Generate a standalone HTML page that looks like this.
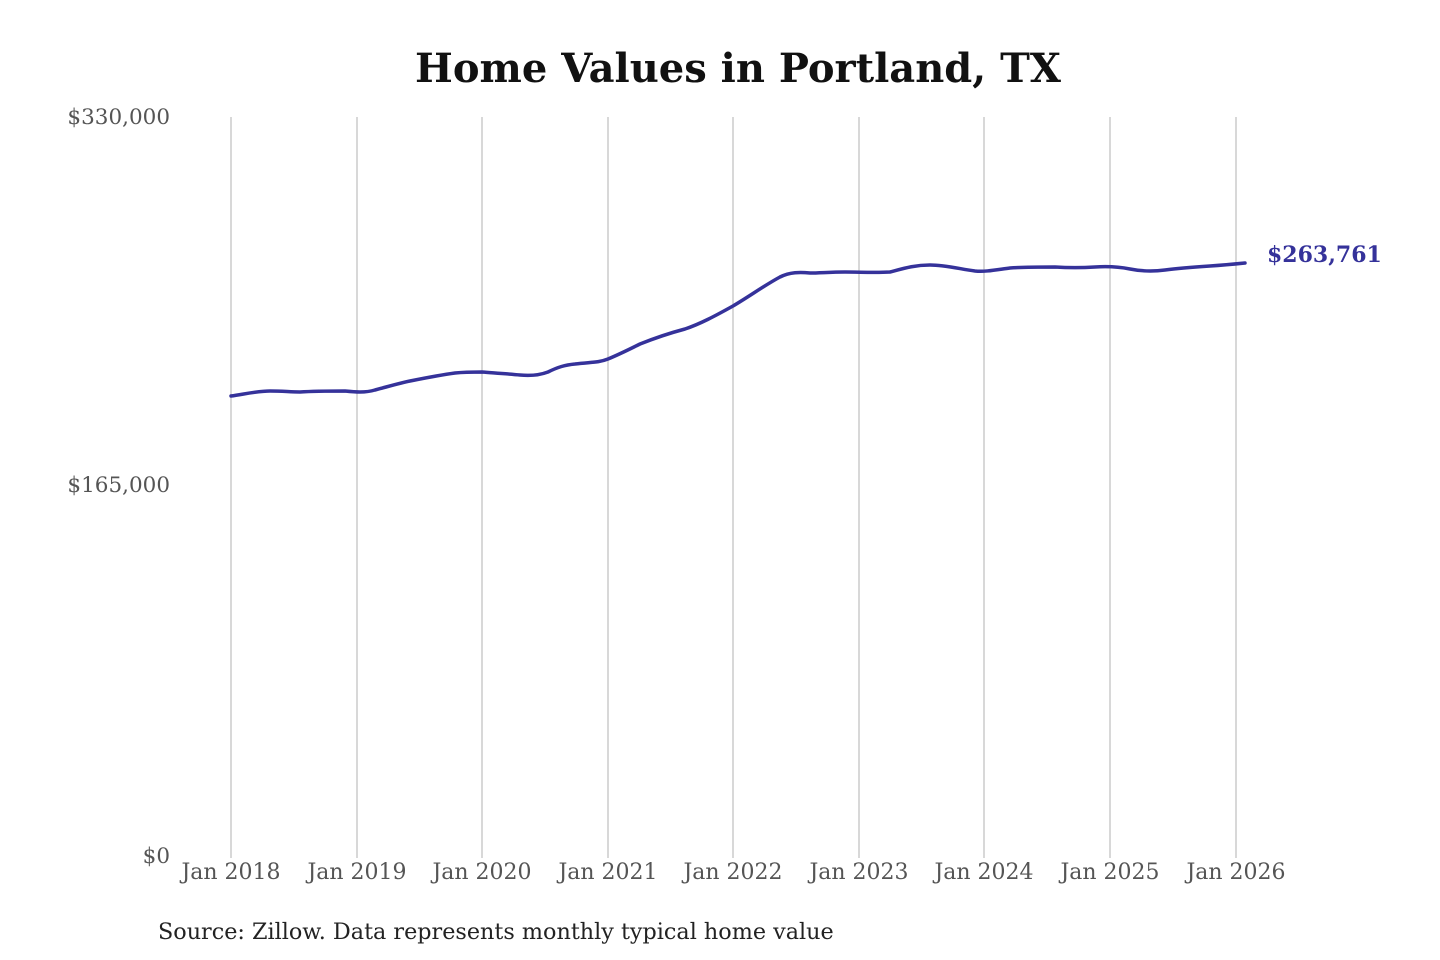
<!DOCTYPE html>
<html><head><meta charset="utf-8"><style>
html,body{margin:0;padding:0;background:#fff;width:1440px;height:960px;overflow:hidden}
svg text{font-family:"DejaVu Serif","Liberation Serif",serif}
</style></head><body>
<svg width="1440" height="960" viewBox="0 0 1440 960" xmlns="http://www.w3.org/2000/svg">
<text x="738" y="82" text-anchor="middle" font-size="40" font-weight="bold" fill="#111">Home Values in Portland, TX</text>
<g stroke="#c4c4c4" stroke-width="1.3">
<line x1="231" y1="117" x2="231" y2="858"/><line x1="357" y1="117" x2="357" y2="858"/>
<line x1="482" y1="117" x2="482" y2="858"/><line x1="608" y1="117" x2="608" y2="858"/>
<line x1="733" y1="117" x2="733" y2="858"/><line x1="859" y1="117" x2="859" y2="858"/>
<line x1="984" y1="117" x2="984" y2="858"/><line x1="1110" y1="117" x2="1110" y2="858"/>
<line x1="1236" y1="117" x2="1236" y2="858"/>
</g>
<g font-size="21.5" fill="#555" text-anchor="end">
<text x="170" y="124">$330,000</text>
<text x="170" y="492">$165,000</text>
<text x="170" y="863">$0</text>
</g>
<g font-size="22" fill="#555" text-anchor="middle">
<text x="231" y="879">Jan 2018</text><text x="357" y="879">Jan 2019</text>
<text x="482" y="879">Jan 2020</text><text x="608" y="879">Jan 2021</text>
<text x="733" y="879">Jan 2022</text><text x="859" y="879">Jan 2023</text>
<text x="984" y="879">Jan 2024</text><text x="1110" y="879">Jan 2025</text>
<text x="1236" y="879">Jan 2026</text>
</g>
<path fill="none" stroke="#35329a" stroke-width="3.5" stroke-linejoin="round" stroke-linecap="round"
d="M231,396 C245,394 258,391 270,391 C283,391 290,392 300,392 C315,391 330,391 345,391 C355,392 365,393 375,390 C390,386 400,383 410,381 C425,378 440,375 455,373 C465,372 475,372 482,372 C495,373 510,374 520,375 C530,376 540,375 548,372 C558,367 565,365 575,364 C590,362 598,363 608,359 C620,354 630,349 640,344 C655,338 670,333 685,329 C700,324 715,316 733,306 C750,296 765,285 780,277 C790,272 800,272 810,273 C820,273 830,272 845,272 C860,272 875,273 890,272 C905,268 915,265 930,265 C945,265 960,269 975,271 C985,272 995,270 1010,268 C1025,267 1040,267 1055,267 C1070,268 1080,268 1095,267 C1110,266 1120,267 1130,269 C1140,271 1150,272 1165,270 C1180,268 1195,267 1210,266 C1225,265 1235,264 1245,263"/>
<text x="1267" y="262" font-size="22" font-weight="bold" fill="#35329a">$263,761</text>
<text x="158" y="939" font-size="22.3" fill="#222">Source: Zillow. Data represents monthly typical home value</text>
</svg>
</body></html>
